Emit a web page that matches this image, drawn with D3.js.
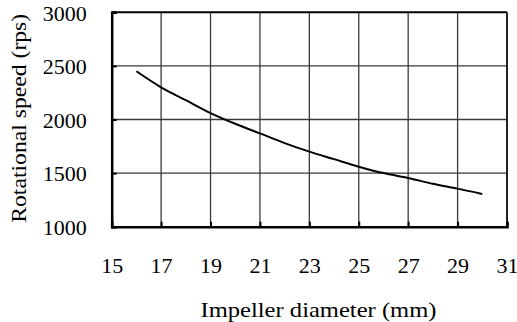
<!DOCTYPE html>
<html lang="en">
<head>
    <meta charset="UTF-8">
    <title>Rotational speed vs impeller diameter</title>
    <script src="https://d3js.org/d3.v7.min.js"></script>
    <style>
        body { margin: 0; background: #fff; }
        svg { display: block; }
    </style>
</head>
<body>
    <svg width="517" height="322"></svg>

    <script>
        // data
        const diameter = [16, 17, 18, 19, 20, 21, 22, 23, 24, 25, 26, 27, 28, 29, 30];
        const speed = [2450, 2300, 2180, 2060, 1960, 1870, 1780, 1700, 1630, 1560, 1500, 1455, 1400, 1355, 1305];
        const xTicks = [15, 17, 19, 21, 23, 25, 27, 29, 31];
        const yTicks = [1000, 1500, 2000, 2500, 3000];

        const svg = d3.select("svg");
        const plotL = 111.7, plotR = 507, plotT = 12.3, plotB = 226.7;

        const x = d3.scaleLinear().domain([15, 31]).range([plotL, plotR]);
        const y = d3.scaleLinear().domain([1000, 3000]).range([plotB, plotT]);

        // grid
        svg.append("g").selectAll("line")
            .data(xTicks.slice(1, -1))
            .enter().append("line")
            .attr("x1", d => x(d)).attr("x2", d => x(d))
            .attr("y1", plotT).attr("y2", plotB)
            .attr("stroke", "#3a3a3a").attr("stroke-width", 1.3);
        svg.append("g").selectAll("line")
            .data(yTicks.slice(1, -1))
            .enter().append("line")
            .attr("x1", plotL).attr("x2", plotR)
            .attr("y1", d => y(d)).attr("y2", d => y(d))
            .attr("stroke", "#3a3a3a").attr("stroke-width", 1.3);

        // frame (top and right)
        svg.append("line").attr("x1", plotL).attr("x2", plotR).attr("y1", plotT).attr("y2", plotT)
            .attr("stroke", "#000").attr("stroke-width", 2);
        svg.append("line").attr("x1", plotR).attr("x2", plotR).attr("y1", plotT).attr("y2", plotB)
            .attr("stroke", "#222").attr("stroke-width", 2);

        // axes
        const xAxis = svg.append("g")
            .attr("transform", `translate(0,${plotB})`)
            .call(d3.axisBottom(x).tickValues(xTicks).tickSize(-5).tickPadding(0).tickFormat(d3.format("d")));
        xAxis.attr("font-family", "Liberation Serif").attr("font-size", 22);
        xAxis.select(".domain").attr("stroke", "#000").attr("stroke-width", 2.5);
        xAxis.selectAll(".tick line").attr("stroke", "#000").attr("stroke-width", 2);
        xAxis.selectAll(".tick text").attr("y", 46).attr("dy", 0).attr("fill", "#000");

        const yAxis = svg.append("g")
            .attr("transform", `translate(${plotL},0)`)
            .call(d3.axisLeft(y).tickValues(yTicks).tickSize(-5).tickPadding(0).tickFormat(d3.format("d")));
        yAxis.attr("font-family", "Liberation Serif").attr("font-size", 22);
        yAxis.select(".domain").attr("stroke", "#000").attr("stroke-width", 2.5);
        yAxis.selectAll(".tick line").attr("stroke", "#000").attr("stroke-width", 2);
        yAxis.selectAll(".tick text").attr("x", -25).attr("dy", "0.35em").attr("fill", "#000");

        // curve
        const line = d3.line()
            .x((d, i) => x(diameter[i]))
            .y(d => y(d))
            .curve(d3.curveMonotoneX);
        svg.append("path")
            .datum(speed)
            .attr("d", line)
            .attr("fill", "none")
            .attr("stroke", "#000")
            .attr("stroke-width", 2);

        // titles
        svg.append("text")
            .attr("font-family", "Liberation Serif").attr("font-size", 22)
            .attr("x", 318.5).attr("y", 317)
            .attr("text-anchor", "middle")
            .attr("textLength", 236).attr("lengthAdjust", "spacingAndGlyphs")
            .text("Impeller diameter (mm)");
        svg.append("text")
            .attr("font-family", "Liberation Serif").attr("font-size", 22)
            .attr("transform", "translate(26,118.3) rotate(-90)")
            .attr("text-anchor", "middle")
            .attr("textLength", 209).attr("lengthAdjust", "spacingAndGlyphs")
            .text("Rotational speed (rps)");
    </script>
</body>
</html>
